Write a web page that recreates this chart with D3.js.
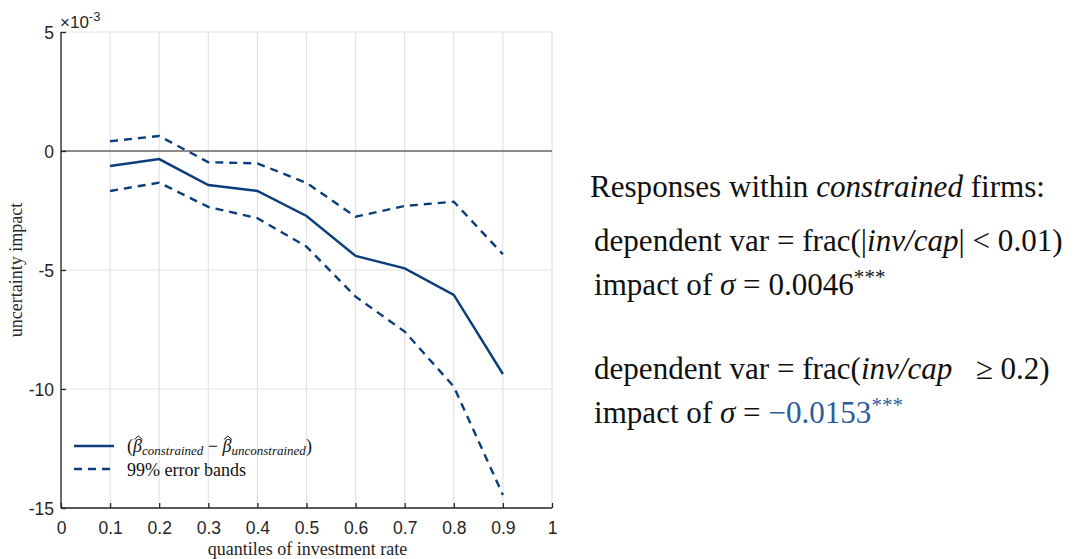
<!DOCTYPE html>
<html><head><meta charset="utf-8">
<script src="https://cdn.jsdelivr.net/npm/d3@7"></script>
<style>
html,body{margin:0;padding:0;background:#fff;}
svg{display:block;}
</style></head>
<body>
<svg id="c" width="1091" height="559"></svg>
<script>
// ---- data (values in units of 1e-3) ----
const quantiles = [0.1,0.2,0.3,0.4,0.5,0.6,0.7,0.8,0.9];
const diffEstimate = [-0.63,-0.34,-1.43,-1.68,-2.73,-4.41,-4.93,-6.05,-9.37];
const upperBand = [0.41,0.63,-0.47,-0.52,-1.34,-2.76,-2.31,-2.13,-4.34];
const lowerBand = [-1.68,-1.33,-2.35,-2.82,-4.02,-6.12,-7.59,-9.90,-14.45];
const xTicks = [0,0.1,0.2,0.3,0.4,0.5,0.6,0.7,0.8,0.9,1];
const yTicks = [5,0,-5,-10,-15];
const xTickLabels = ["0","0.1","0.2","0.3","0.4","0.5","0.6","0.7","0.8","0.9","1"];
const yTickLabels = ["5","0","-5","-10","-15"];

const svg = d3.select("#c");
const L=61, R=552, T=32, B=508;
const x = d3.scaleLinear().domain([0,1]).range([L,R]);
const y = d3.scaleLinear().domain([-15,5]).range([B,T]);
const blue = "#0b3d7b";
const grid = "#e3e3e3";
const sansFont = "'Liberation Sans Narrow', 'Liberation Sans', Arial, sans-serif";
const serifFont = "'Liberation Serif', 'DejaVu Serif', serif";

// grid
svg.append("g").selectAll("line").data(xTicks).join("line")
  .attr("x1",d=>x(d)).attr("x2",d=>x(d)).attr("y1",T).attr("y2",B)
  .attr("stroke",grid).attr("stroke-width",1.2);
svg.append("g").selectAll("line").data(yTicks).join("line")
  .attr("x1",L).attr("x2",R).attr("y1",d=>y(d)).attr("y2",d=>y(d))
  .attr("stroke",grid).attr("stroke-width",1.2);

// zero line
svg.append("line").attr("x1",L).attr("x2",R).attr("y1",y(0)).attr("y2",y(0))
  .attr("stroke","#262626").attr("stroke-width",1.2);

// axes
const xAxis = d3.axisBottom(x).tickValues(xTicks).tickSize(-5).tickPadding(15)
  .tickFormat((d,i)=>xTickLabels[i]);
const yAxis = d3.axisLeft(y).tickValues(yTicks).tickSize(-5).tickPadding(7)
  .tickFormat((d,i)=>yTickLabels[yTicks.indexOf(d)]);
const gx = svg.append("g").attr("transform",`translate(0,${B})`).call(xAxis);
const gy = svg.append("g").attr("transform",`translate(${L},0)`).call(yAxis);
[gx,gy].forEach(g=>{
  g.attr("font-size",null).attr("font-family",null);
  g.select(".domain").attr("stroke","#262626").attr("stroke-width",1.3);
  g.selectAll(".tick line").attr("stroke","#262626").attr("stroke-width",1.3);
  g.selectAll(".tick text").attr("fill","#262626").style("font-family",sansFont).style("font-size","17.5px");
});
gx.selectAll(".tick text").attr("dy","0.62em");
gy.selectAll(".tick text").attr("dy","0.36em");
gy.select(".domain").attr("d",`M0,${B}V${T}`);
gx.select(".domain").attr("d",`M${L},0H${R}`);

// exponent
const ex = svg.append("text").attr("x",60).attr("y",28).attr("fill","#262626")
  .style("font-family",sansFont).style("font-size","17px");
ex.append("tspan").text("×10");
ex.append("tspan").attr("dy",-7).style("font-size","13px").text("-3");

// lines
const line = d3.line().x((d,i)=>x(quantiles[i])).y(d=>y(d));
svg.append("path").datum(upperBand).attr("d",line).attr("fill","none")
  .attr("stroke",blue).attr("stroke-width",2.4).attr("stroke-dasharray","8,6");
svg.append("path").datum(lowerBand).attr("d",line).attr("fill","none")
  .attr("stroke",blue).attr("stroke-width",2.4).attr("stroke-dasharray","8,6");
svg.append("path").datum(diffEstimate).attr("d",line).attr("fill","none")
  .attr("stroke",blue).attr("stroke-width",2.4);

// axis labels
svg.append("text").attr("x",(L+R)/2+1).attr("y",555).attr("text-anchor","middle")
  .style("font-family",serifFont).style("font-size","18px").attr("fill","#262626")
  .text("quantiles of investment rate");
svg.append("text").attr("transform",`translate(22,${(T+B)/2}) rotate(-90)`).attr("text-anchor","middle")
  .style("font-family",serifFont).style("font-size","18px").attr("fill","#262626")
  .text("uncertainty impact");

// legend
svg.append("line").attr("x1",74).attr("x2",114).attr("y1",446).attr("y2",446)
  .attr("stroke",blue).attr("stroke-width",2.4);
svg.append("line").attr("x1",74).attr("x2",114).attr("y1",469).attr("y2",469)
  .attr("stroke",blue).attr("stroke-width",2.4).attr("stroke-dasharray","8,6");
const lg1 = svg.append("text").attr("x",127).attr("y",452).attr("fill","#111")
  .style("font-family",serifFont).style("font-size","18px");
lg1.append("tspan").text("(");
lg1.append("tspan").style("font-style","italic").text("β");
lg1.append("tspan").attr("dy",3).style("font-style","italic").style("font-size","13px").text("constrained");
lg1.append("tspan").attr("dy",-3).text(" − ");
lg1.append("tspan").style("font-style","italic").text("β");
lg1.append("tspan").attr("dy",3).style("font-style","italic").style("font-size","13px").text("unconstrained");
lg1.append("tspan").attr("dy",-3).text(")");
// hats over the betas
{
  const node = lg1.node();
  const full = node.textContent;
  for (let i=0;i<full.length;i++){
    if (full[i]==="β"){
      const e = node.getExtentOfChar(i);
      svg.append("path")
        .attr("d",`M${e.x+e.width/2-3.2},${e.y+3.5}L${e.x+e.width/2+0.8},${e.y}L${e.x+e.width/2+4.8},${e.y+3.5}`)
        .attr("fill","none").attr("stroke","#111").attr("stroke-width",1);
    }
  }
}
svg.append("text").attr("x",127).attr("y",476).attr("fill","#111")
  .style("font-family",serifFont).style("font-size","18px").text("99% error bands");

// right annotation
let fs = 28;
function rt(xp, yp){ return svg.append("text").attr("x",xp).attr("y",yp).attr("fill","#111")
  .attr("class","rt").style("font-family",serifFont).style("font-size",fs+"px"); }
const t1 = rt(590,197);
t1.append("tspan").text("Responses within ");
t1.append("tspan").style("font-style","italic").text("constrained");
t1.append("tspan").text(" firms:");
const t2 = rt(594,251);
t2.append("tspan").text("dependent var = frac(|");
t2.append("tspan").style("font-style","italic").text("inv/cap");
t2.append("tspan").text("| < 0.01)");
const t3 = rt(594,295);
t3.append("tspan").text("impact of ");
t3.append("tspan").style("font-style","italic").text("σ");
t3.append("tspan").text(" = 0.0046");
t3.append("tspan").attr("class","sup").attr("dy",-11).text("***");
const t4 = rt(594,379);
t4.append("tspan").text("dependent var = frac(");
t4.append("tspan").style("font-style","italic").text("inv/cap");
t4.append("tspan").style("white-space","pre").text("   ≥ 0.2)");
const t5 = rt(594,423);
t5.append("tspan").text("impact of ");
t5.append("tspan").style("font-style","italic").text("σ");
t5.append("tspan").text(" = ");
t5.append("tspan").attr("fill","#2b5c9c").text("−0.0153");
t5.append("tspan").attr("class","sup").attr("fill","#2b5c9c").attr("dy",-11).text("***");
// fit first line to reference width
const w = t1.node().getComputedTextLength();
fs = fs * 455 / w;
svg.selectAll("text.rt").style("font-size",fs+"px");
svg.selectAll("tspan.sup").style("font-size",(fs*0.68)+"px");
</script>
</body></html>
